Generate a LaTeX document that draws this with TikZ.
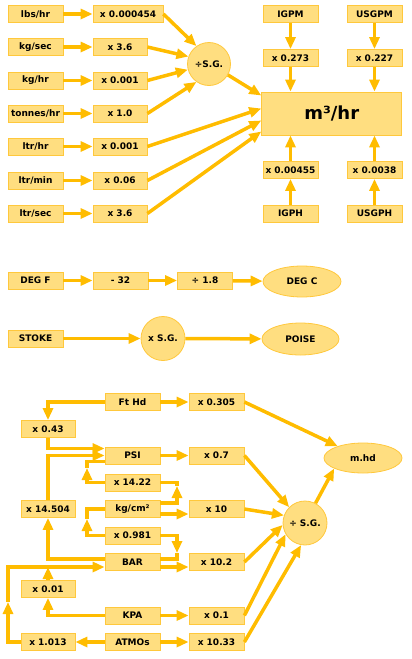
\documentclass[tikz,border=0pt]{standalone}
\usepackage{fontspec}
\setmainfont{DejaVu Sans}
\usetikzlibrary{arrows.meta,shapes.geometric}
\definecolor{boxfill}{RGB}{255,222,128}
\definecolor{boxline}{RGB}{255,200,60}
\definecolor{flow}{RGB}{255,188,0}

\begin{document}
\begin{tikzpicture}[x=1pt,y=-1pt,
	font=\fontsize{9}{10}\selectfont\bfseries,
	unit/.style={shape=rectangle,draw=boxline,fill=boxfill,line width=0.8pt,minimum width=55pt,minimum height=17pt,inner sep=1pt},
	sg/.style={shape=circle,draw=boxline,fill=boxfill,line width=0.8pt,minimum size=44pt,inner sep=0pt},
	res/.style={shape=ellipse,draw=boxline,fill=boxfill,line width=0.8pt,minimum width=78pt,minimum height=31pt,inner sep=0pt},
	arr/.style={draw=flow,line width=3.5pt,-{Triangle[length=12pt,width=10pt]}},
	ln/.style={draw=flow,line width=3.5pt}]
	
	\useasboundingbox (0,0) rectangle (412,659);
	
	% flow rates
	\node[unit] (lbs) at (35.5,14)     {lbs/hr};
	\node[unit] (kgs) at (35.5,47)     {kg/sec};
	\node[unit] (kgh) at (35.5,80.5)   {kg/hr};
	\node[unit] (tph) at (35.5,113.5)  {tonnes/hr};
	\node[unit] (lph) at (35.5,146.5)  {ltr/hr};
	\node[unit] (lpm) at (35.5,180.5)  {ltr/min};
	\node[unit] (lps) at (35.5,213.5)  {ltr/sec};
	
	\node[unit,minimum width=70pt] (m1) at (128,14) {x 0.000454};
	\node[unit,minimum width=54pt] (m2) at (120,47)    {x 3.6};
	\node[unit,minimum width=54pt] (m3) at (120,80.5)  {x 0.001};
	\node[unit,minimum width=54pt] (m4) at (120,113.5) {x 1.0};
	\node[unit,minimum width=54pt] (m5) at (120,146.5) {x 0.001};
	\node[unit,minimum width=54pt] (m6) at (120,180.5) {x 0.06};
	\node[unit,minimum width=54pt] (m7) at (120,213.5) {x 3.6};
	
	\node[sg,minimum size=43pt] (d1) at (209,64) {÷S.G.};
	
	\node[unit,minimum width=140pt,minimum height=43pt,font=\fontsize{18}{20}\selectfont\bfseries] (cub) at (331.7,113.5) {m³/hr};
	
	\node[unit] (igpm) at (290.5,14)    {IGPM};
	\node[unit] (usgpm) at (374.5,14)   {USGPM};
	\node[unit] (a1) at (290.5,58)      {x 0.273};
	\node[unit] (a2) at (374.5,58)      {x 0.227};
	\node[unit] (b1) at (290.5,170)     {x 0.00455};
	\node[unit] (b2) at (374.5,170)     {x 0.0038};
	\node[unit] (igph) at (290.5,213.5) {IGPH};
	\node[unit] (usgph) at (374.5,213.5){USGPH};
	
	% temperature and viscosity
	\node[unit] (degf) at (35.5,280.5) {DEG F};
	\node[unit] (t1) at (120.5,280.5)  {- 32};
	\node[unit] (t2) at (205,280.5)    {÷ 1.8};
	\node[res] (degc) at (302,281.5)   {DEG C};
	
	\node[unit] (stoke) at (35.5,338.5) {STOKE};
	\node[sg] (xsg) at (163,338.5)      {x S.G.};
	\node[res,minimum width=77pt,minimum height=32pt] (poise) at (300.5,339) {POISE};
	
	% pressure and head
	\node[unit] (fthd) at (132.5,402)  {Ft Hd};
	\node[unit] (f305) at (216.5,402)  {x 0.305};
	\node[unit,minimum width=54pt] (f43) at (48,429) {x 0.43};
	\node[unit] (psi) at (132.5,455.5) {PSI};
	\node[unit] (f07) at (216.5,455.5) {x 0.7};
	\node[unit] (f1422) at (132.5,482.5) {x 14.22};
	\node[unit] (kgcm) at (132.5,509)  {kg/cm²};
	\node[unit] (f10) at (216.5,509)   {x 10};
	\node[unit,minimum width=54pt] (f14504) at (48,509) {x 14.504};
	\node[unit] (f0981) at (132.5,535.5) {x 0.981};
	\node[unit] (bar) at (132.5,562)   {BAR};
	\node[unit] (f102) at (216.5,562)  {x 10.2};
	\node[unit,minimum width=54pt] (f001) at (48,589) {x 0.01};
	\node[unit] (kpa) at (132.5,615.5) {KPA};
	\node[unit] (f01) at (216.5,615.5) {x 0.1};
	\node[unit,minimum width=54pt] (f1013) at (48,642) {x 1.013};
	\node[unit] (atm) at (132.5,642)   {ATMOs};
	\node[unit] (f1033) at (216.5,642) {x 10.33};
	
	\node[sg] (d2) at (305,523) {÷ S.G.};
	\node[res,minimum height=30pt] (mhd) at (363,458) {m.hd};
	
	\coordinate (c1) at (87,468);
	\coordinate (c2) at (177,486);
	\coordinate (c3) at (87,519);
	\coordinate (c4) at (177,553);
	\coordinate (c5) at (8,602);
	\coordinate (c6) at (48,567);
	
	\draw[arr] (lbs) -- (m1);
	\draw[arr] (kgs) -- (m2);
	\draw[arr] (kgh) -- (m3);
	\draw[arr] (tph) -- (m4);
	\draw[arr] (lph) -- (m5);
	\draw[arr] (lpm) -- (m6);
	\draw[arr] (lps) -- (m7);
	
	\draw[arr] (m1.east) -- (d1.125);
	\draw[arr] (m2.east) -- (d1.160);
	\draw[arr] (m3.east) -- (d1.195);
	\draw[arr] (m4.east) -- (d1.235);
	\draw[arr] (d1.-30) -- ([yshift=18pt]cub.west);
	\draw[arr] (m5.east) -- ([yshift=5pt]cub.west);
	\draw[arr] (m6.east) -- ([yshift=-7pt]cub.west);
	\draw[arr] (m7.east) -- ([yshift=-18pt]cub.west);
	
	\draw[arr] (igpm) -- (a1);
	\draw[arr] (a1) -- (a1 |- cub.north);
	\draw[arr] (usgpm) -- (a2);
	\draw[arr] (a2) -- (a2 |- cub.north);
	\draw[arr] (igph) -- (b1);
	\draw[arr] (b1) -- (b1 |- cub.south);
	\draw[arr] (usgph) -- (b2);
	\draw[arr] (b2) -- (b2 |- cub.south);
	
	\draw[arr] (degf) -- (t1);
	\draw[arr] (t1) -- (t2);
	\draw[arr] (t2) -- (degc);
	\draw[arr] (stoke) -- (xsg);
	\draw[arr] (xsg) -- (poise);
	
	\draw[arr] (fthd) -- (f305);
	\draw[arr] (fthd.west) -| (f43.north);
	\draw[arr] (f43.south) |- ([yshift=7pt]psi.west);
	\draw[arr] (f14504.north) |- (psi.west);
	\draw[arr] (psi) -- (f07);
	\draw[arr] (f1422.west) -| (c1);
	\draw[ln] (c1) |- ([yshift=-6pt]psi.west);
	\draw[arr] ([yshift=6pt]kgcm.east) -| (c2);
	\draw[ln] (c2) |- (f1422.east);
	\draw[arr] ([yshift=-5pt]kgcm.east) -- ([yshift=-5pt]f10.west);
	\draw[arr] (f0981.west) -| (c3);
	\draw[ln] (c3) |- (kgcm.west);
	\draw[arr] (f0981.east) -| (c4);
	\draw[ln] (c4) |- ([yshift=3pt]bar.east);
	\draw[arr] ([yshift=-5pt]bar.east) -- ([yshift=-5pt]f102.west);
	\draw[arr] ([yshift=3pt]bar.west) -| (f14504.south);
	\draw[arr] (f1013.west) -| (c5);
	\draw[arr] (c5) |- ([yshift=-5pt]bar.west);
	\draw[arr] (f001.north) -- (c6);
	\draw[arr] (kpa.west) -| (f001.south);
	\draw[arr] (kpa) -- (f01);
	\draw[arr] (atm) -- (f1013);
	\draw[arr] (atm) -- (f1033);
	
	\draw[arr] (f305.east) -- (mhd.155);
	\draw[arr] (f07.east) -- (d2.135);
	\draw[arr] (f10.east) -- (d2.160);
	\draw[arr] (f102.east) -- (d2.185);
	\draw[arr] (f01.east) -- (d2.210);
	\draw[arr] (f1033.east) -- (d2.260);
	\draw[arr] (d2.62) -- (mhd.200);
	
\end{tikzpicture}
\end{document}
